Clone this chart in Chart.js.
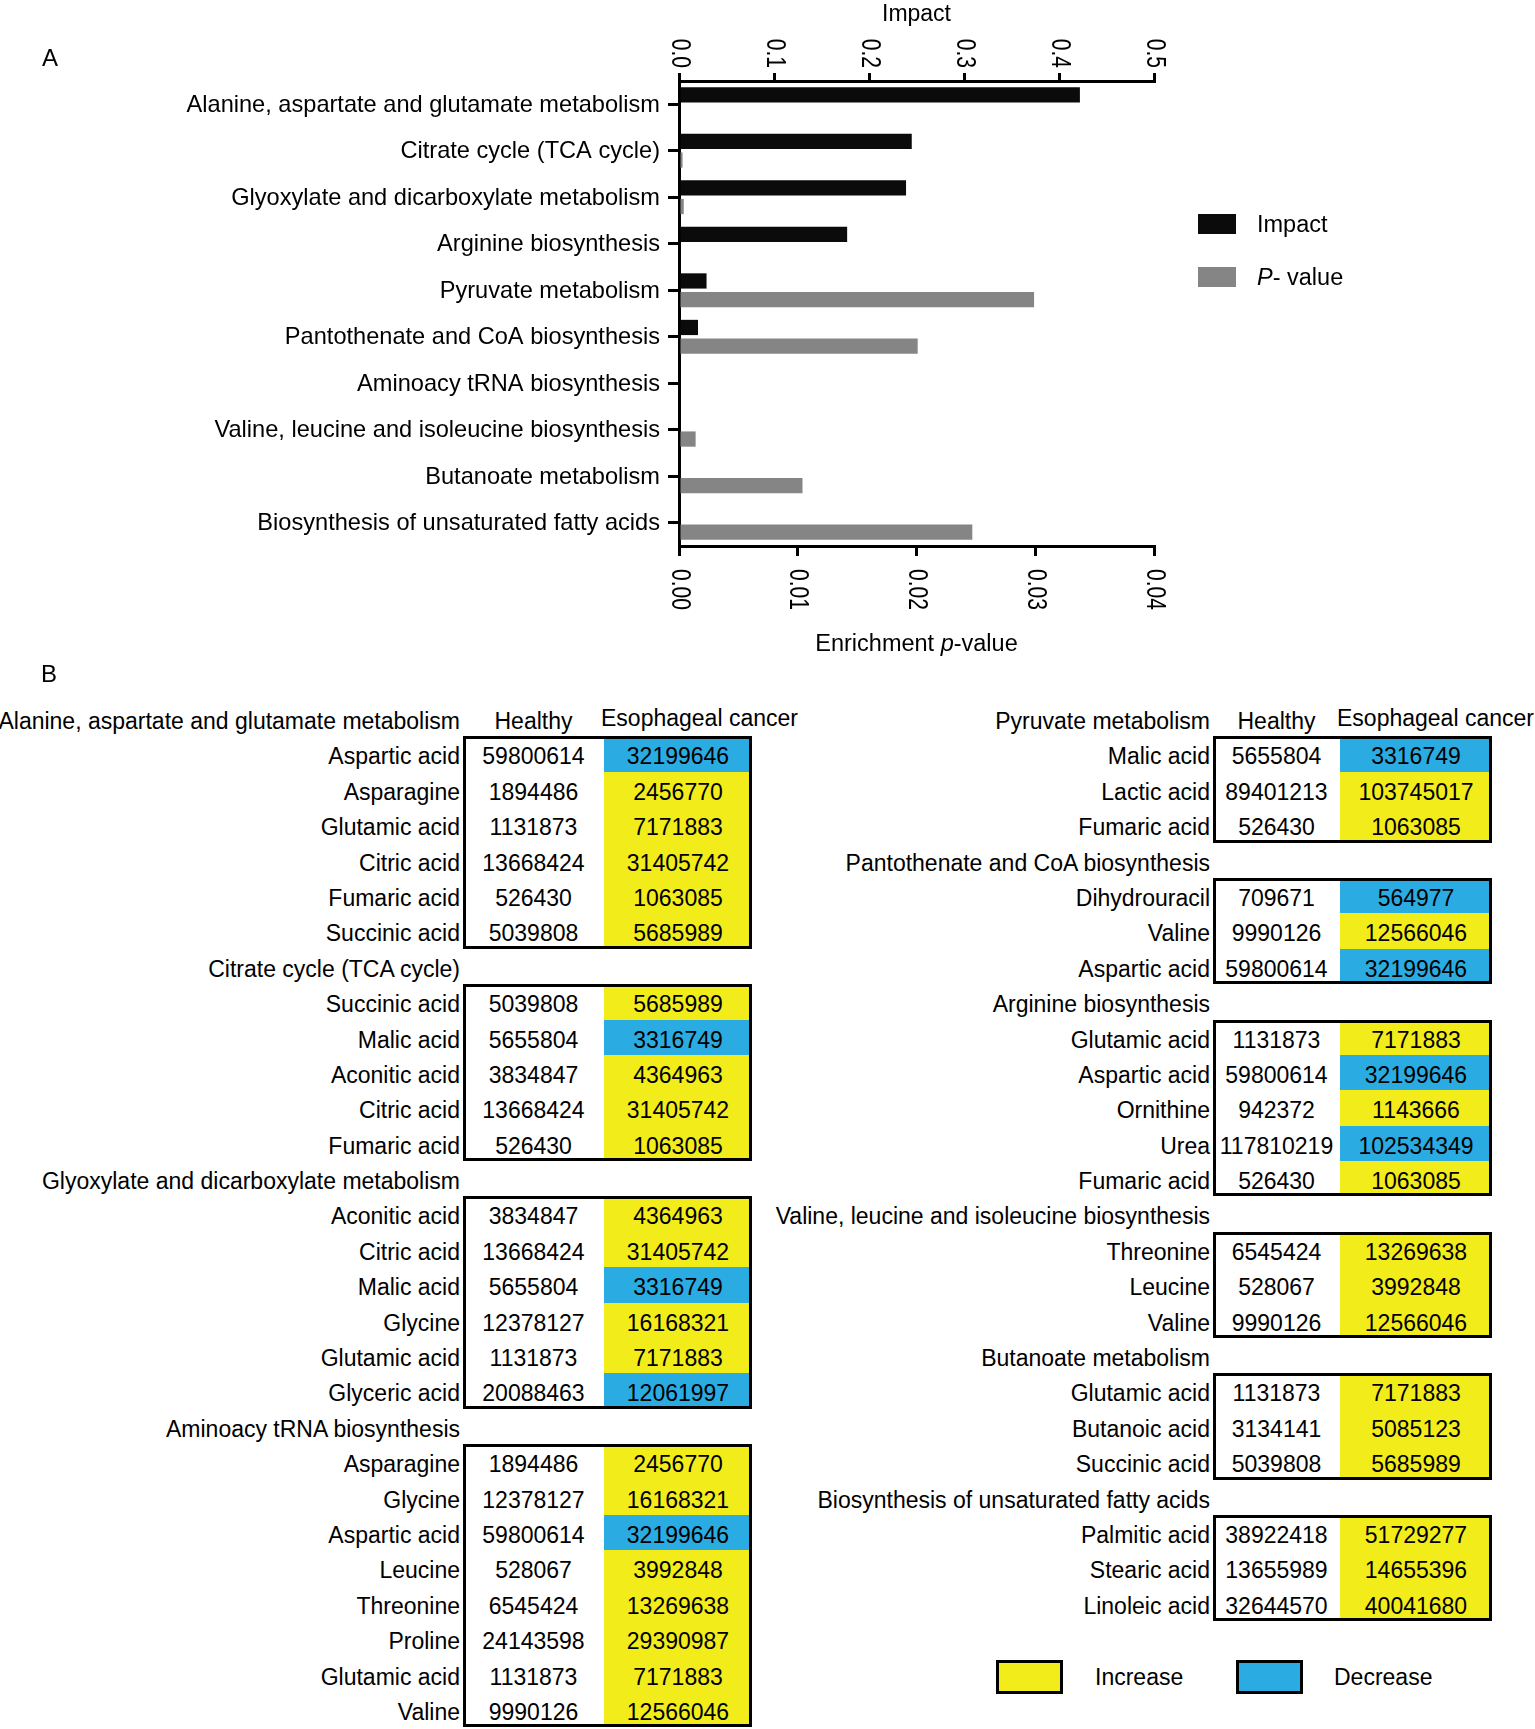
<!DOCTYPE html>
<html>
<head>
<meta charset="utf-8">
<script src="https://cdn.jsdelivr.net/npm/chart.js@4.4.1/dist/chart.umd.min.js"></script>
<style>
  body { margin: 0; width: 1535px; height: 1729px; overflow: hidden; background: #fff;
         font-family: "Liberation Sans", Arial, Helvetica, sans-serif; color: #000; }
  #chartA { position: absolute; left: 0; top: 0; width: 1535px; height: 665px; }
  .panelLetter { position: absolute; font-size: 24px; line-height: 24px; }
  .legA { position: absolute; left: 1198px; font-size: 23.5px; line-height: 20px; white-space: nowrap; }
  .legA span.sw { display: inline-block; width: 38px; height: 20px; vertical-align: top; margin-right: 21px; }
  .tcol { position: absolute; top: 701px; font-size: 23px; }
  .row { display: flex; height: 35.4px; line-height: 41px; white-space: nowrap; }
  .lab { display: flex; justify-content: flex-end; padding-right: 3px; box-sizing: border-box; }
  .sect { display: flex; }
  .box { position: relative; }
  .box::after { content: ''; position: absolute; left: 0; top: 0; right: 0; bottom: 0;
                border: 3px solid #000; pointer-events: none; }
  .cell { text-align: center; }
  .legB { position: absolute; top: 1660px; height: 34px; line-height: 34px; font-size: 23px; }
  .legB .sw { position: absolute; top: 0; width: 67px; height: 34px; box-sizing: border-box; border: 3px solid #000; }
</style>
</head>
<body>
<canvas id="chartA" width="1535" height="665"></canvas>
<div class="panelLetter" style="left:42px; top:46px;">A</div>
<div class="panelLetter" style="left:41px; top:662px;">B</div>
<div class="legA" style="top:214px;"><span class="sw" style="background:#0b0b0b"></span>Impact</div>
<div class="legA" style="top:267px;"><span class="sw" style="background:#858585"></span><i>P</i>- value</div>
<div id="leftTables" class="tcol" style="left:0px;"></div>
<div id="rightTables" class="tcol" style="left:700px;"></div>
<div id="legendB"></div>

<script>
// pathways (chart categories and table titles)
const pathways = [
  "Alanine, aspartate and glutamate metabolism",
  "Citrate cycle (TCA cycle)",
  "Glyoxylate and dicarboxylate metabolism",
  "Arginine biosynthesis",
  "Pyruvate metabolism",
  "Pantothenate and CoA biosynthesis",
  "Aminoacy tRNA biosynthesis",
  "Valine, leucine and isoleucine biosynthesis",
  "Butanoate metabolism",
  "Biosynthesis of unsaturated fatty acids"
];
const impactValues = [0.422, 0.245, 0.239, 0.177, 0.029, 0.020, 0, 0, 0, 0];
const pValues = [0, 0.0003, 0.0004, 0, 0.0299, 0.0201, 0, 0.0014, 0.0104, 0.0247];
const impactTicks = ["0.0", "0.1", "0.2", "0.3", "0.4", "0.5"];
const pTicks = ["0.00", "0.01", "0.02", "0.03", "0.04"];

// metabolite levels
const metabolites = ["Aspartic acid", "Asparagine", "Glutamic acid", "Citric acid", "Fumaric acid",
  "Succinic acid", "Malic acid", "Aconitic acid", "Glycine", "Glyceric acid", "Leucine",
  "Threonine", "Proline", "Valine", "Lactic acid", "Dihydrouracil", "Ornithine", "Urea",
  "Butanoic acid", "Palmitic acid", "Stearic acid", "Linoleic acid"];
const healthyLevels = [59800614, 1894486, 1131873, 13668424, 526430,
  5039808, 5655804, 3834847, 12378127, 20088463, 528067,
  6545424, 24143598, 9990126, 89401213, 709671, 942372, 117810219,
  3134141, 38922418, 13655989, 32644570];
const cancerLevels = [32199646, 2456770, 7171883, 31405742, 1063085,
  5685989, 3316749, 4364963, 16168321, 12061997, 3992848,
  13269638, 29390987, 12566046, 103745017, 564977, 1143666, 102534349,
  5085123, 51729277, 14655396, 40041680];

// which metabolites each pathway table lists (same order as pathways)
const pathwayMetabolites = [
  ["Aspartic acid", "Asparagine", "Glutamic acid", "Citric acid", "Fumaric acid", "Succinic acid"],
  ["Succinic acid", "Malic acid", "Aconitic acid", "Citric acid", "Fumaric acid"],
  ["Aconitic acid", "Citric acid", "Malic acid", "Glycine", "Glutamic acid", "Glyceric acid"],
  ["Glutamic acid", "Aspartic acid", "Ornithine", "Urea", "Fumaric acid"],
  ["Malic acid", "Lactic acid", "Fumaric acid"],
  ["Dihydrouracil", "Valine", "Aspartic acid"],
  ["Asparagine", "Glycine", "Aspartic acid", "Leucine", "Threonine", "Proline", "Glutamic acid", "Valine"],
  ["Threonine", "Leucine", "Valine"],
  ["Glutamic acid", "Butanoic acid", "Succinic acid"],
  ["Palmitic acid", "Stearic acid", "Linoleic acid"]
];
const leftTablePathways = [0, 1, 2, 6];
const rightTablePathways = [4, 5, 3, 7, 8, 9];

const increaseColor = "#f2ec1b";
const decreaseColor = "#2aace2";
const fam = '"Liberation Sans", Arial, Helvetica, sans-serif';

Chart.defaults.font.family = fam;
Chart.defaults.color = "#000";

// rotated (clockwise) and condensed tick labels, plus the two axis titles
const axisText = {
  id: "axisText",
  afterDraw(chart) {
    const ctx = chart.ctx;
    const area = chart.chartArea;
    const top = chart.scales.xTop;
    const bot = chart.scales.xBot;
    ctx.save();
    ctx.fillStyle = "#000";
    ctx.font = "27px " + fam;
    function rotText(text, x, y, align) {
      ctx.save();
      ctx.translate(x, y);
      ctx.rotate(Math.PI / 2);
      ctx.scale(0.78, 1);
      ctx.textAlign = align;
      ctx.textBaseline = "middle";
      ctx.fillText(text, 0, 0);
      ctx.restore();
    }
    top.ticks.forEach(t => rotText(t.label, top.getPixelForValue(t.value), top.bottom - 13, "right"));
    bot.ticks.forEach(t => rotText(t.label, bot.getPixelForValue(t.value), bot.top + 23, "left"));

    const cx = (area.left + area.right) / 2;
    ctx.textBaseline = "alphabetic";
    ctx.textAlign = "center";
    ctx.font = "23px " + fam;
    ctx.fillText("Impact", cx, 21);

    const parts = [["Enrichment ", ""], ["p", "italic "], ["-value", ""]];
    let total = 0;
    parts.forEach(p => { ctx.font = p[1] + "23.5px " + fam; total += ctx.measureText(p[0]).width; });
    let x = cx - total / 2;
    ctx.textAlign = "left";
    parts.forEach(p => {
      ctx.font = p[1] + "23.5px " + fam;
      ctx.fillText(p[0], x, 651);
      x += ctx.measureText(p[0]).width;
    });
    ctx.restore();
  }
};

const axisGrid = { drawOnChartArea: false, color: "#000", tickColor: "#000", lineWidth: 3, tickWidth: 3 };

new Chart(document.getElementById("chartA"), {
  type: "bar",
  data: {
    labels: pathways,
    datasets: [
      { label: "Impact", data: impactValues, backgroundColor: "#0b0b0b", xAxisID: "xTop",
        categoryPercentage: 0.8, barPercentage: 0.82 },
      { label: "P- value", data: pValues, backgroundColor: "#858585", xAxisID: "xBot",
        categoryPercentage: 0.8, barPercentage: 0.82 }
    ]
  },
  options: {
    indexAxis: "y",
    responsive: false,
    animation: false,
    layout: { padding: { left: 0, right: 381, top: 0, bottom: 0 } },
    plugins: { legend: { display: false }, tooltip: { enabled: false } },
    scales: {
      y: {
        type: "category",
        position: "left",
        offset: true,
        grid: Object.assign({}, axisGrid, { offset: false, tickLength: 11 }),
        border: { color: "#000", width: 3 },
        ticks: { font: { size: 23.6 }, color: "#000", padding: 8, autoSkip: false, labelOffset: 1 },
        afterFit(s) { s.width = 679; }
      },
      xTop: {
        type: "linear",
        position: "top",
        min: 0, max: 0.5,
        ticks: { stepSize: 0.1, display: false, callback: (v, i) => impactTicks[i] },
        grid: Object.assign({}, axisGrid, { tickLength: 8 }),
        border: { color: "#000", width: 3 },
        afterFit(s) { s.height = 81; }
      },
      xBot: {
        type: "linear",
        position: "bottom",
        min: 0, max: 0.04,
        ticks: { stepSize: 0.01, display: false, callback: (v, i) => pTicks[i] },
        grid: Object.assign({}, axisGrid, { tickLength: 10 }),
        border: { color: "#000", width: 3 },
        afterFit(s) { s.height = 119; }
      }
    }
  },
  plugins: [axisText]
});

// ---- panel B tables ----
function el(tag, cls, text) {
  const e = document.createElement(tag);
  if (cls) e.className = cls;
  if (text !== undefined) e.textContent = text;
  return e;
}

function buildColumn(container, list, labW, hW, eW) {
  list.forEach((p, k) => {
    const head = el("div", "row");
    const t = el("div", "lab", pathways[p]);
    t.style.width = labW + "px";
    head.appendChild(t);
    if (k === 0) {
      const h = el("div", "cell", "Healthy");
      h.style.width = hW + "px";
      const c = el("div", "", "Esophageal cancer");
      c.style.cssText = "width:" + eW + "px; margin-left:-3px; position:relative; top:-3px;";
      head.appendChild(h);
      head.appendChild(c);
    }
    container.appendChild(head);

    const sect = el("div", "sect");
    const labs = el("div", "");
    labs.style.width = labW + "px";
    const box = el("div", "box");
    box.style.width = (hW + eW) + "px";
    pathwayMetabolites[p].forEach(name => {
      const i = metabolites.indexOf(name);
      const lr = el("div", "row lab", name);
      lr.style.width = labW + "px";
      labs.appendChild(lr);
      const r = el("div", "row");
      const hc = el("div", "cell", String(healthyLevels[i]));
      hc.style.width = hW + "px";
      const cc = el("div", "cell", String(cancerLevels[i]));
      cc.style.width = eW + "px";
      cc.style.background = cancerLevels[i] > healthyLevels[i] ? increaseColor : decreaseColor;
      r.appendChild(hc);
      r.appendChild(cc);
      box.appendChild(r);
    });
    sect.appendChild(labs);
    sect.appendChild(box);
    container.appendChild(sect);
  });
}

buildColumn(document.getElementById("leftTables"), leftTablePathways, 463, 141, 148);
buildColumn(document.getElementById("rightTables"), rightTablePathways, 513, 127, 152);

// legend for panel B
const legB = document.getElementById("legendB");
[["Increase", increaseColor, 996, 1095], ["Decrease", decreaseColor, 1236, 1334]].forEach(item => {
  const sw = el("div", "legB");
  sw.style.left = item[2] + "px";
  const box = el("div", "sw");
  box.style.background = item[1];
  sw.appendChild(box);
  legB.appendChild(sw);
  const txt = el("div", "legB", item[0]);
  txt.style.left = item[3] + "px";
  legB.appendChild(txt);
});
</script>
</body>
</html>
